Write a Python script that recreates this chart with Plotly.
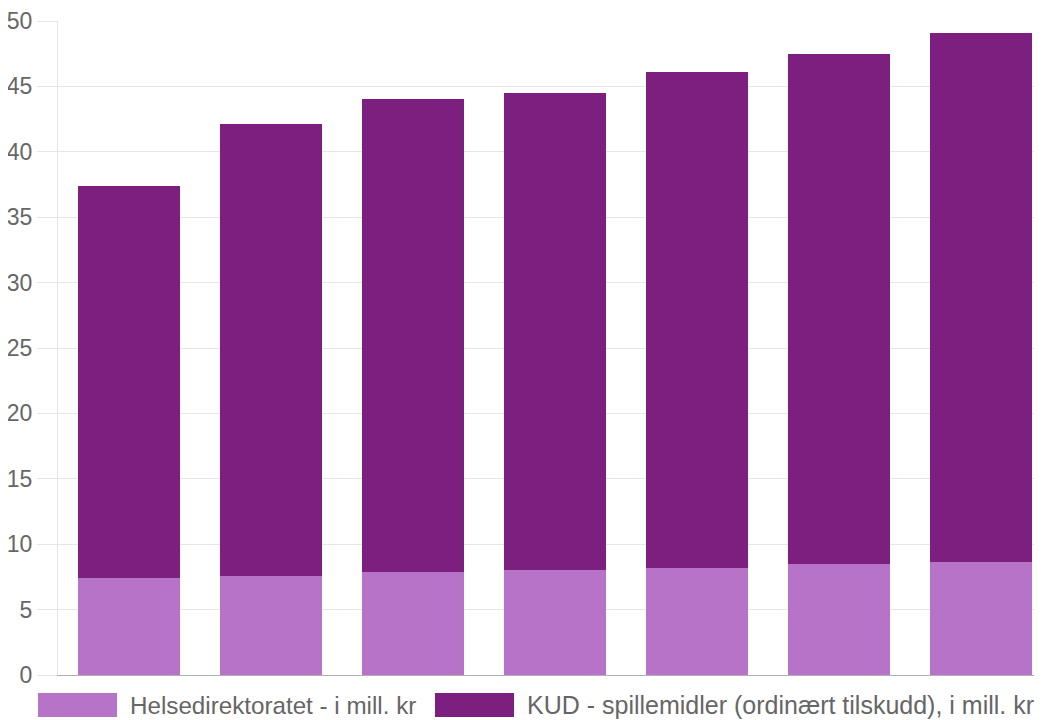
import plotly.graph_objects as go

categories = ["1", "2", "3", "4", "5", "6", "7"]
helse = [7.4, 7.55, 7.85, 8.0, 8.15, 8.5, 8.65]
kud = [29.95, 34.55, 36.15, 36.5, 37.95, 38.95, 40.45]
series_names = ["Helsedirektoratet - i mill. kr",
                "KUD - spillemidler (ordinært tilskudd), i mill. kr"]
colors = ["#b773c8", "#7c1f7e"]
y_ticks = [0, 5, 10, 15, 20, 25, 30, 35, 40, 45, 50]

OFF = 8  # page body margin
W, H = 1042 - OFF, 720 - OFF
L, R, T, B = 58 - OFF, 0, 21 - OFF, 720 - 675
pw, ph = W - L - R, H - T - B

def px_x(x):
    return (x - OFF - L) / pw

def px_y(y):
    return (H - B - (y - OFF)) / ph

fig = go.Figure()
for name, vals, c in zip(series_names, [helse, kud], colors):
    fig.add_trace(go.Bar(x=categories, y=vals, name=name, marker_color=c,
                         marker_line_width=0, width=0.72, showlegend=False))

# custom legend (screen pixel positions)
legend_items = [(38, 117, 130, 24.2), (435, 514, 527, 25)]
for (x0, x1, tx, fs), name, c in zip(legend_items, series_names, colors):
    fig.add_shape(type="rect", xref="paper", yref="paper",
                  x0=px_x(x0), x1=px_x(x1), y0=px_y(693), y1=px_y(717),
                  fillcolor=c, line_width=0)
    fig.add_annotation(xref="paper", yref="paper", x=px_x(tx), y=px_y(705),
                       text=name, showarrow=False, xanchor="left", yanchor="middle",
                       xshift=-2, font=dict(size=fs, color="#666666"))

fig.update_layout(
    width=W, height=H, barmode="stack",
    margin=dict(l=L, r=R, t=T, b=B, pad=0),
    plot_bgcolor="white", paper_bgcolor="white",
    font=dict(family="Liberation Sans, Arial, sans-serif", color="#666666"),
    xaxis=dict(showticklabels=False, showgrid=False,
               range=[-0.5, 6.43], showline=True, linecolor="#b0b0b0",
               linewidth=1, zeroline=False, ticks=""),
    yaxis=dict(range=[0, 50], tickvals=y_ticks, showgrid=True, gridcolor="#e6e6e6",
               ticks="outside", ticklen=20, tickcolor="#e6e6e6",
               showline=True, linecolor="#e6e6e6", linewidth=1,
               tickfont=dict(size=23, color="#666666"), zeroline=False),
)
fig.write_html("out.html")
